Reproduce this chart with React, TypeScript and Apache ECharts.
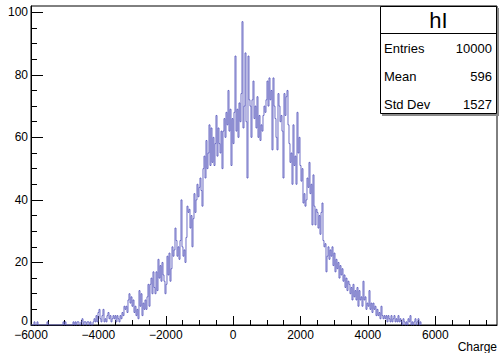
import React, { useEffect, useRef } from "react";
import * as echarts from "echarts";

// Histogram "hI": bins of equal width starting at the left edge of the axis
const binLowEdge = -6000;
const binWidth = 29.68;
const counts = [
  0, 0, 0, 1, 0, 0, 1, 0, 0, 0,
  0, 0, 0, 0, 0, 0, 1, 0, 0, 0,
  0, 0, 0, 0, 0, 0, 0, 0, 0, 0,
  0, 0, 1, 0, 1, 0, 0, 0, 0, 0,
  0, 0, 1, 0, 1, 0, 1, 1, 0, 0,
  1, 2, 0, 1, 1, 0, 1, 1, 0, 1,
  0, 0, 1, 2, 1, 3, 1, 4, 5, 2,
  1, 3, 5, 1, 2, 1, 3, 4, 2, 3,
  1, 2, 3, 2, 3, 1, 3, 2, 1, 3,
  2, 4, 3, 6, 5, 6, 4, 8, 10, 7,
  9, 6, 8, 4, 6, 3, 5, 2, 11, 6,
  10, 3, 7, 5, 8, 5, 9, 13, 6, 13,
  15, 10, 17, 12, 10, 17, 11, 21, 15, 19,
  14, 20, 16, 14, 10, 13, 22, 16, 23, 14,
  18, 25, 22, 24, 31, 27, 22, 25, 21, 27,
  40, 25, 22, 24, 20, 28, 38, 36, 37, 31,
  35, 25, 34, 42, 36, 40, 45, 41, 44, 47,
  43, 38, 50, 54, 47, 59, 50, 55, 64, 51,
  63, 52, 60, 51, 58, 67, 54, 63, 58, 55,
  62, 50, 62, 66, 60, 68, 64, 75, 62, 69,
  51, 66, 58, 68, 86, 62, 69, 60, 71, 65,
  74, 97, 63, 70, 87, 65, 47, 86, 72, 70,
  60, 72, 78, 66, 70, 63, 73, 60, 67, 59,
  64, 62, 67, 70, 68, 72, 78, 70, 79, 72,
  75, 56, 79, 70, 66, 60, 56, 74, 70, 65,
  67, 62, 47, 74, 67, 73, 75, 64, 58, 52,
  55, 45, 64, 51, 54, 45, 68, 55, 60, 51,
  46, 50, 39, 42, 38, 40, 47, 44, 52, 42,
  45, 32, 48, 38, 32, 37, 36, 31, 35, 29,
  36, 39, 27, 25, 26, 17, 22, 25, 21, 24,
  22, 25, 19, 23, 17, 21, 18, 20, 15, 19,
  16, 18, 14, 16, 12, 15, 11, 14, 13, 10,
  12, 8, 13, 9, 11, 8, 12, 6, 11, 8,
  9, 6, 14, 8, 9, 5, 7, 6, 11, 5,
  7, 4, 7, 5, 6, 3, 5, 3, 4, 2,
  6, 3, 2, 3, 2, 3, 1, 3, 2, 1,
  3, 1, 2, 3, 1, 2, 1, 3, 1, 2,
  1, 0, 2, 1, 0, 1, 0, 2, 1, 3,
  0, 1, 0, 1, 2, 0, 1, 2, 0, 1,
];

const xMin = -6000;
const xMax = 7831;
const yMin = 0;
const yMax = 102;
const xMajorTicks = [-6000, -4000, -2000, 0, 2000, 4000, 6000];
const xMinorTicks = [
  -5500, -5000, -4500, -3500, -3000, -2500, -1500, -1000, -500, 500, 1000, 1500,
  2500, 3000, 3500, 4500, 5000, 5500, 6500, 7000, 7500,
];
const yMajorTicks = [0, 20, 40, 60, 80, 100];
const yLabelTicks = [20, 40, 60, 80, 100];
const yZeroLabel = "0";
const yMinorTicks = [5, 10, 15, 25, 30, 35, 45, 50, 55, 65, 70, 75, 85, 90, 95];

const histName = "hI";
const statLabels = ["Entries", "Mean", "Std Dev"];
const statValues = ["10000", "596", "1527"];
const xTitle = "Charge";

const FONT = "'Liberation Sans', Arial, Helvetica, sans-serif";

export default function App() {
  const ref = useRef<HTMLDivElement>(null);

  useEffect(() => {
    const chart = echarts.init(ref.current!, null, { renderer: "svg" });

    const pts: number[][] = [[binLowEdge, 0]];
    counts.forEach((c, i) => {
      const lo = binLowEdge + i * binWidth;
      pts.push([lo, c], [lo + binWidth, c]);
    });
    pts.push([binLowEdge + counts.length * binWidth, 0]);

    const fmt = (v: number) => (v < 0 ? "\u2212" + String(-v) : String(v));

    const rowY = [48, 76, 104];
    const graphics: any[] = [
      { type: "rect", shape: { x: 382, y: 8, width: 117, height: 108 }, style: { fill: "#8a8a8a" }, z: 100 },
      { type: "rect", shape: { x: 380.5, y: 6.5, width: 116, height: 107 }, style: { fill: "#fff", stroke: "#000", lineWidth: 1 }, z: 101 },
      { type: "line", shape: { x1: 380.5, y1: 33.5, x2: 496.5, y2: 33.5 }, style: { stroke: "#000", lineWidth: 1 }, z: 102 },
      { type: "text", x: 438.5, y: 20.5, style: { text: histName, font: `22px ${FONT}`, fill: "#000", align: "center", verticalAlign: "middle" }, z: 103 },
      { type: "text", right: 2, top: 341, style: { text: xTitle, font: `12px ${FONT}`, fill: "#000" }, z: 103 },
      { type: "text", x: 28, y: 321, style: { text: yZeroLabel, font: `12px ${FONT}`, fill: "#000", align: "right", verticalAlign: "middle" }, z: 103 },
    ];
    statLabels.forEach((lab, i) => {
      graphics.push({ type: "text", x: 384, y: rowY[i], style: { text: lab, font: `13px ${FONT}`, fill: "#000", align: "left", verticalAlign: "middle" }, z: 103 });
      graphics.push({ type: "text", x: 492, y: rowY[i], style: { text: statValues[i], font: `13px ${FONT}`, fill: "#000", align: "right", verticalAlign: "middle" }, z: 103 });
    });

    chart.setOption({
      animation: false,
      backgroundColor: "#fff",
      grid: { left: 31, right: 2, top: 6, bottom: 28, show: true, borderColor: "#000", borderWidth: 1, backgroundColor: "transparent" },
      xAxis: [
        {
          type: "value", min: xMin, max: xMax, position: "bottom",
          axisLine: { show: true, onZero: false, lineStyle: { color: "#000", width: 1 } },
          axisTick: { show: true, inside: true, length: 9, lineStyle: { color: "#000" }, customValues: xMajorTicks },
          axisLabel: { show: true, margin: 4, color: "#000", fontSize: 12, fontFamily: FONT, formatter: fmt, customValues: xMajorTicks },
          splitLine: { show: false },
        },
        {
          type: "value", min: xMin, max: xMax, position: "bottom", offset: 0,
          axisLine: { show: false, onZero: false },
          axisTick: { show: true, inside: true, length: 5, lineStyle: { color: "#000" }, customValues: xMinorTicks },
          axisLabel: { show: false },
          splitLine: { show: false },
        },
      ],
      yAxis: [
        {
          type: "value", min: yMin, max: yMax, position: "left",
          axisLine: { show: true, onZero: false, lineStyle: { color: "#000", width: 1 } },
          axisTick: { show: true, inside: true, length: 12, lineStyle: { color: "#000" }, customValues: yMajorTicks },
          axisLabel: { show: true, margin: 3, color: "#000", fontSize: 12, fontFamily: FONT, customValues: yLabelTicks },
          splitLine: { show: false },
        },
        {
          type: "value", min: yMin, max: yMax, position: "left", offset: 0,
          axisLine: { show: false, onZero: false },
          axisTick: { show: true, inside: true, length: 6, lineStyle: { color: "#000" }, customValues: yMinorTicks },
          axisLabel: { show: false },
          splitLine: { show: false },
        },
      ],
      series: [
        {
          type: "line",
          xAxisIndex: 0,
          yAxisIndex: 0,
          data: pts,
          symbol: "none",
          clip: true,
          lineStyle: { color: "#5e5ebf", width: 0.9 },
          z: 3,
        },
      ],
      graphic: graphics,
    });

    return () => chart.dispose();
  }, []);

  return (
    <div
      ref={ref}
      style={{ position: "fixed", left: 0, top: 0, width: 499, height: 353, background: "#fff" }}
    />
  );
}
